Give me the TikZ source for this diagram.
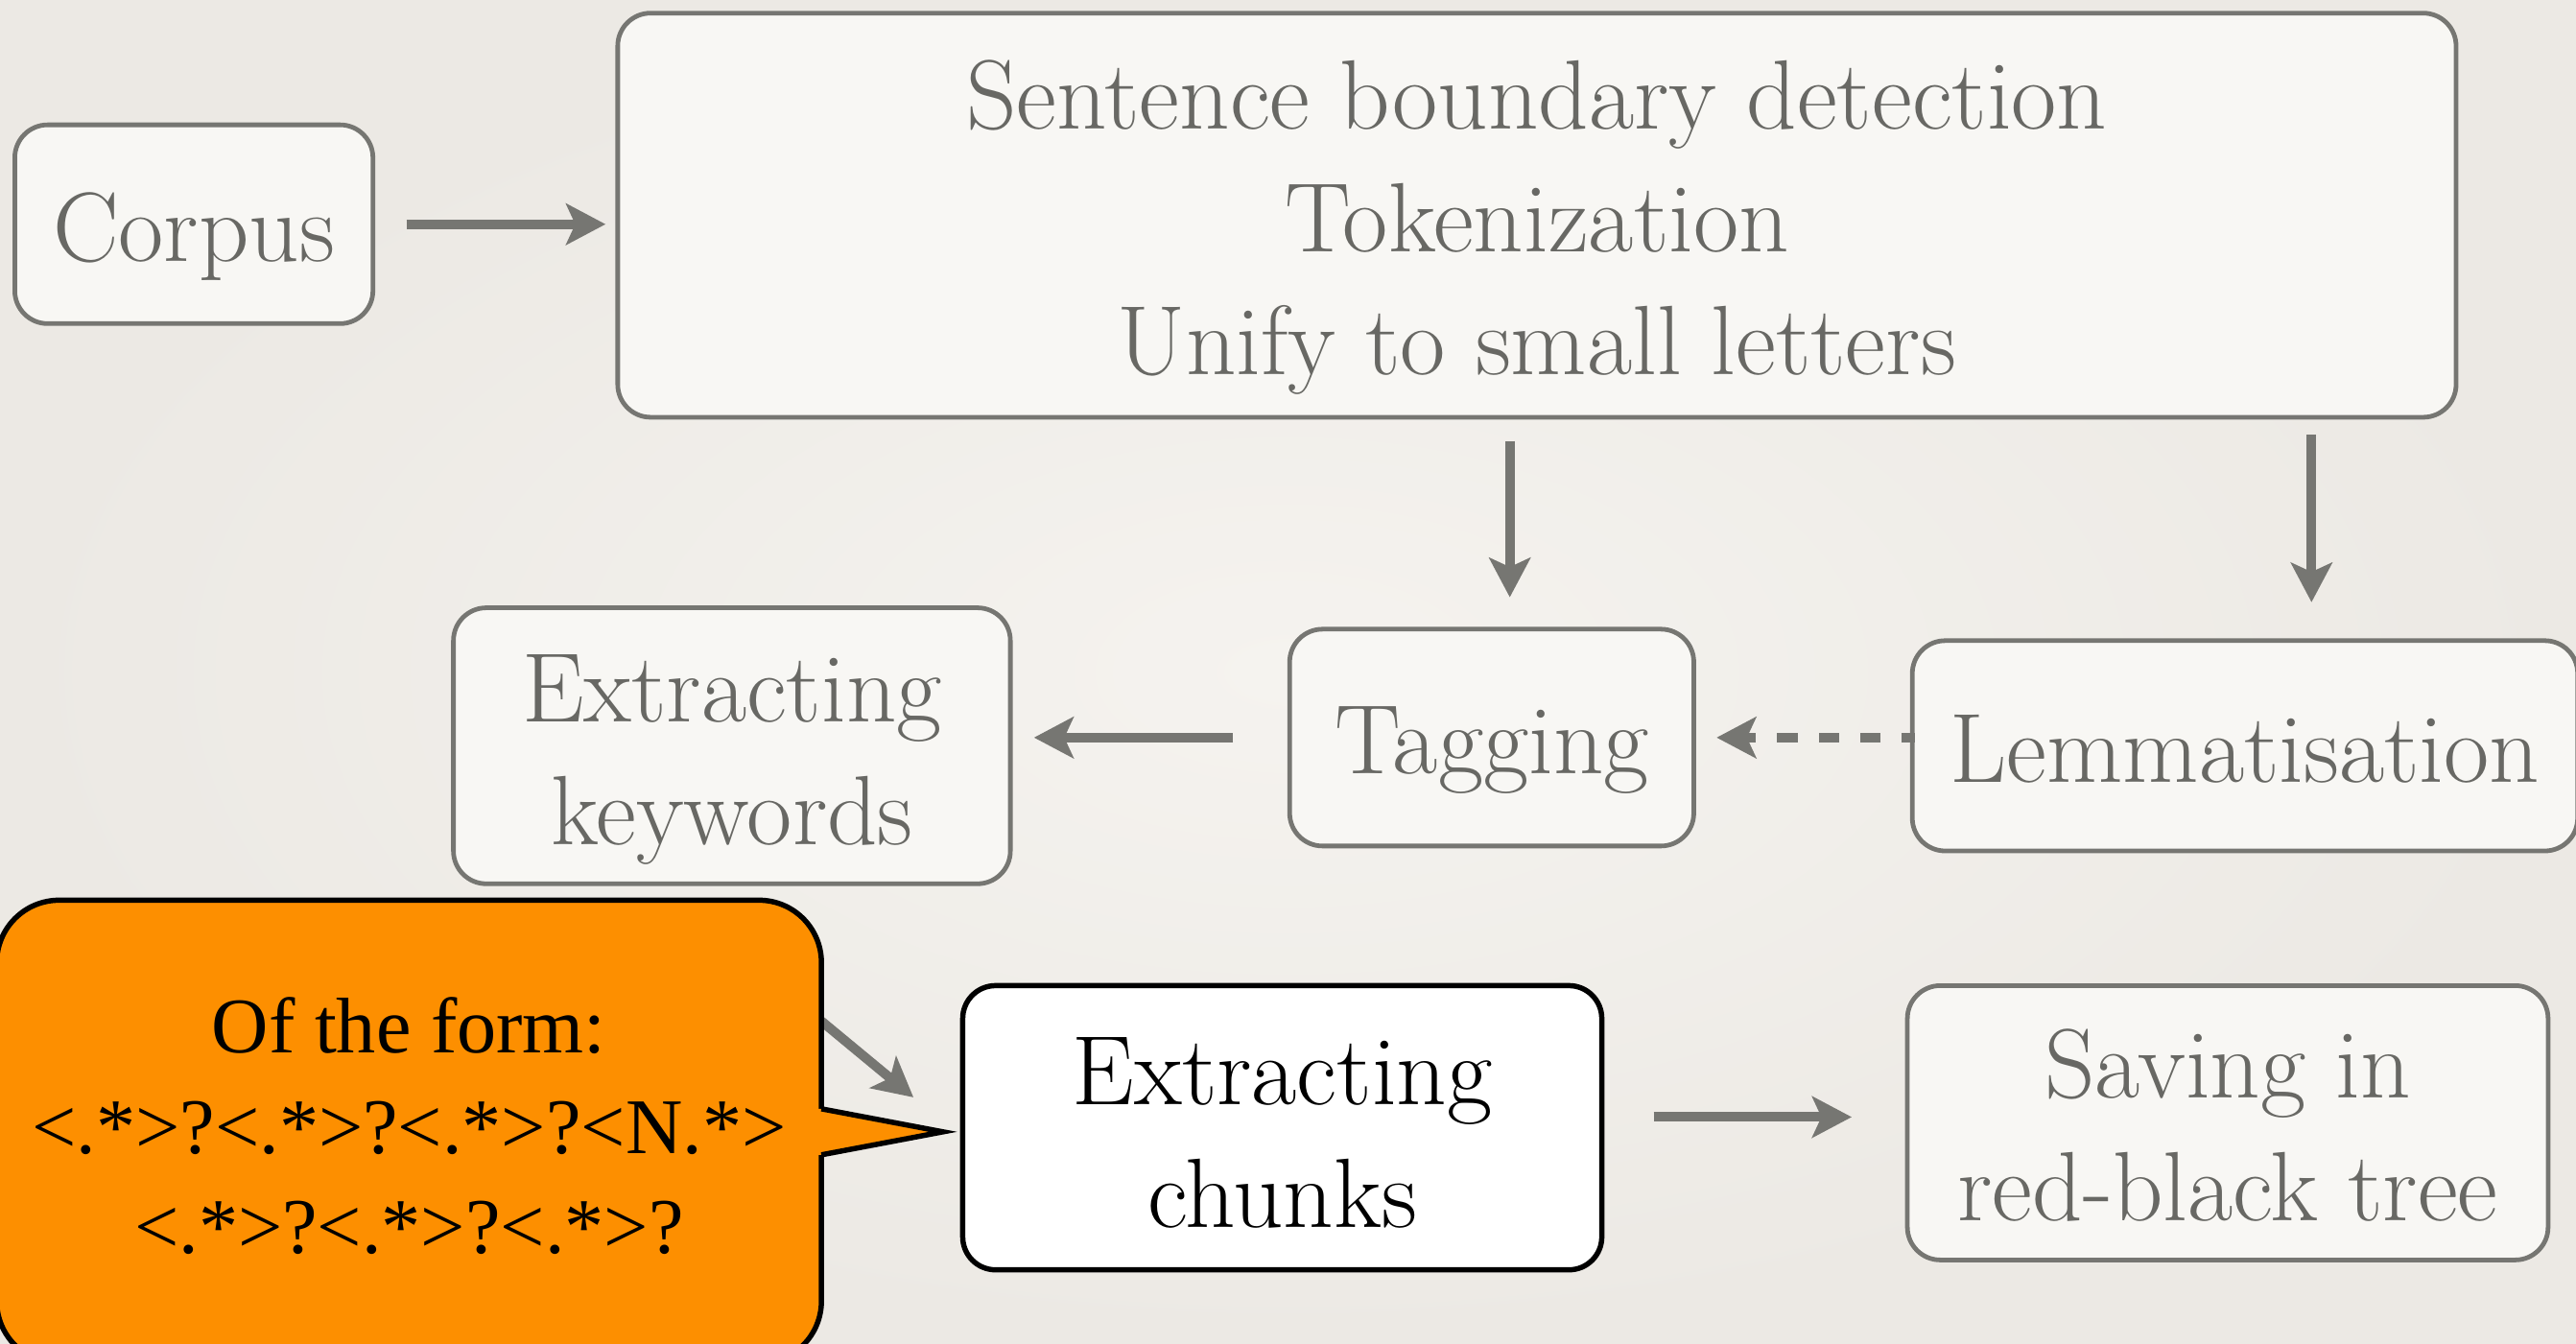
\documentclass[tikz,border=0pt]{standalone}
\usepackage{fontspec}
\newfontfamily\termsfont{Liberation Serif}
\usetikzlibrary{arrows.meta}

\definecolor{ink}{RGB}{118,118,114}
\definecolor{textink}{RGB}{104,104,100}
\definecolor{boxfill}{RGB}{248,247,244}
\definecolor{bgin}{RGB}{245,243,239}
\definecolor{bgout}{RGB}{236,233,228}
\definecolor{calloutorange}{RGB}{253,143,0}

\begin{document}
\begin{tikzpicture}[x=0.5pt, y=-0.5pt,
  stage/.style={draw=ink, line width=1.4pt, fill=boxfill, rounded corners=10pt,
    text=textink, align=center, inner sep=0pt, text depth=0pt,
    font=\fontsize{30}{37.3}\selectfont},
  focus/.style={stage, draw=black, fill=white, text=black, line width=1.6pt},
  boxdim/.style 2 args={minimum width=#1, minimum height=#2},
  lastline/.style={text height=#1pt},
  arr/.style={draw=ink, line width=2.9pt,
    -{Stealth[length=12pt,width=12.5pt,inset=2.8pt]}},
  dasharr/.style={arr, dash pattern=on 6.2pt off 6.45pt, dash phase=2.2pt}
]

% paper background
\shade[inner color=bgin, outer color=bgout] (0,0) rectangle (1568,818);
\useasboundingbox (0,0) rectangle (1568,818);

% processing stages
\node[stage, boxdim={109pt}{60.5pt}, lastline=22.5] (corpus) at (118,136.5) {Corpus};
\node[stage, boxdim={559.5pt}{123pt}, lastline=97] (prep) at (935.5,131)
  {Sentence boundary detection\\Tokenization\\Unify to small letters};
\node[stage, boxdim={169.5pt}{84pt}, lastline=60] (keywords) at (445.5,454) {Extracting\\keywords};
\node[stage, boxdim={123pt}{66pt}, lastline=22] (tagging) at (908,449) {Tagging};
\node[stage, boxdim={202.5pt}{64pt}, lastline=22] (lemma) at (1366.5,454) {Lemmatisation};
\node[focus, boxdim={194.5pt}{86.5pt}, lastline=60.5] (chunks) at (780.5,686.5) {Extracting\\chunks};
\node[stage, boxdim={195pt}{83.5pt}, lastline=59.5] (saving) at (1356,683.5) {Saving in\\red-black tree};

% helper points
\coordinate (downA) at (919,0);
\coordinate (downB) at (1407,0);
\coordinate (lowrow) at (0,680);
\coordinate (pointfrom) at (498,620);
\coordinate (tochunks) at (556,668);

% flow
\draw[arr, shorten <=9.5pt, shorten >=3pt] (corpus.east) -- (corpus.east -| prep.west);
\draw[arr, shorten <=6.5pt, shorten >=9pt] (prep.south -| downA) -- (tagging.north -| downA);
\draw[arr, shorten <=4.5pt, shorten >=11pt] (prep.south -| downB) -- (lemma.north -| downB);
\draw[arr, shorten <=16.5pt, shorten >=6.5pt] (tagging.west) -- (tagging.west -| keywords.east);
\draw[dasharr, shorten <=-1.5pt, shorten >=6.25pt] (lemma.west |- tagging.east) -- (tagging.east);
\draw[arr, shorten <=15pt, shorten >=16.25pt] (chunks.east |- lowrow) -- (saving.west |- lowrow);
\draw[arr] (pointfrom) -- (tochunks);

% speech bubble with the chunk pattern
\node[draw=black, line width=1.6pt, fill=calloutorange, rounded corners=19pt, inner sep=0pt,
  boxdim={251pt}{141pt}, align=center, text depth=0pt, text height=74pt,
  font=\termsfont\fontsize{24}{30.5}\selectfont] (form) at (249,689)
  {Of the form:\\<.*>?<.*>?<.*>?<N.*>\\<.*>?<.*>?<.*>?};
\coordinate (ptop) at (form.east |- 0,675);
\coordinate (pbot) at (form.east |- 0,703);
\coordinate (ptip) at (574,689);
\fill[calloutorange] (ptop) -- (ptip) -- (pbot) -- ([xshift=-2pt]pbot) -- ([xshift=-2pt]ptop) -- cycle;
\draw[black, line width=1.6pt] ([xshift=-0.8pt]ptop) -- (ptip) -- ([xshift=-0.8pt]pbot);

\end{tikzpicture}
\end{document}
